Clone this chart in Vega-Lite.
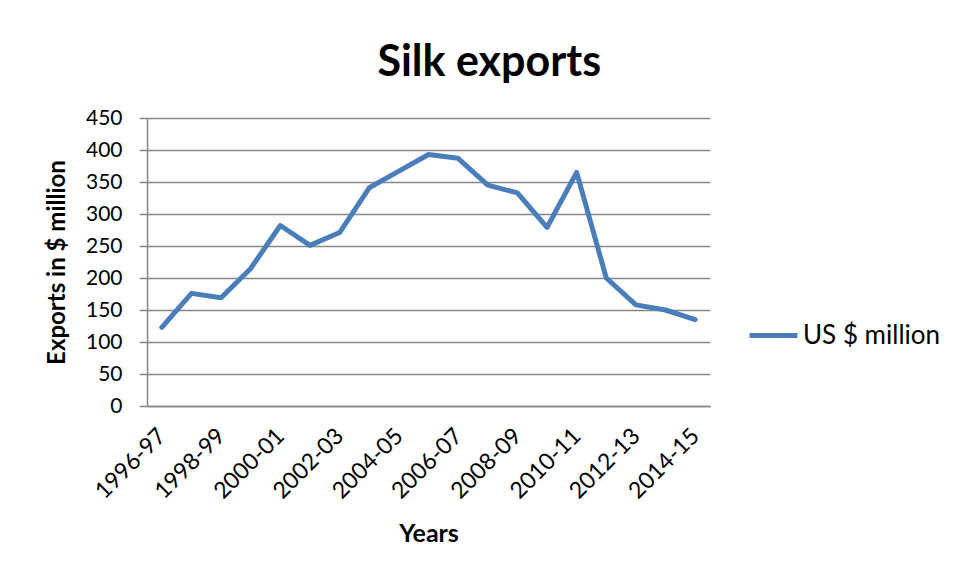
{
  "$schema": "https://vega.github.io/schema/vega-lite/v6.json",
  "width": 563,
  "height": 288,
  "padding": {"left": 45, "top": 42, "right": 5, "bottom": 5},
  "background": "white",
  "title": {
    "text": "Silk exports",
    "font": "Lato",
    "fontSize": 43,
    "fontWeight": "bold",
    "color": "#000000",
    "anchor": "middle",
    "frame": "bounds",
    "offset": 22,
    "dx": -4
  },
  "data": {
    "values": [
      {"year": "1996-97", "value": 123, "series": "US $ million"},
      {"year": "1997-98", "value": 176, "series": "US $ million"},
      {"year": "1998-99", "value": 169, "series": "US $ million"},
      {"year": "1999-00", "value": 215, "series": "US $ million"},
      {"year": "2000-01", "value": 282, "series": "US $ million"},
      {"year": "2001-02", "value": 251, "series": "US $ million"},
      {"year": "2002-03", "value": 271, "series": "US $ million"},
      {"year": "2003-04", "value": 341, "series": "US $ million"},
      {"year": "2004-05", "value": 367, "series": "US $ million"},
      {"year": "2005-06", "value": 393, "series": "US $ million"},
      {"year": "2006-07", "value": 387, "series": "US $ million"},
      {"year": "2007-08", "value": 345, "series": "US $ million"},
      {"year": "2008-09", "value": 333, "series": "US $ million"},
      {"year": "2009-10", "value": 279, "series": "US $ million"},
      {"year": "2010-11", "value": 365, "series": "US $ million"},
      {"year": "2011-12", "value": 200, "series": "US $ million"},
      {"year": "2012-13", "value": 158, "series": "US $ million"},
      {"year": "2013-14", "value": 150, "series": "US $ million"},
      {"year": "2014-15", "value": 135, "series": "US $ million"}
    ]
  },
  "mark": {"type": "line", "strokeWidth": 5, "strokeCap": "round", "strokeJoin": "round"},
  "encoding": {
    "x": {
      "field": "year",
      "type": "ordinal",
      "sort": null,
      "scale": {"type": "point", "padding": 0.5},
      "title": "Years",
      "axis": {
        "values": ["1996-97", "1998-99", "2000-01", "2002-03", "2004-05", "2006-07", "2008-09", "2010-11", "2012-13", "2014-15"],
        "labelAngle": -45,
        "labelAlign": "right",
        "labelBaseline": "middle",
        "labelFontSize": 23,
        "labelFont": "Lato",
        "labelColor": "#000000",
        "labelPadding": 26,
        "ticks": false,
        "domainColor": "#868686",
        "domainWidth": 1.5,
        "titleFont": "Lato",
        "titleFontSize": 25,
        "titleFontWeight": "bold",
        "titleColor": "#000000",
        "titlePadding": 18,
        "grid": false
      }
    },
    "y": {
      "field": "value",
      "type": "quantitative",
      "scale": {"domain": [0, 450]},
      "title": "Exports in $ million",
      "axis": {
        "values": [0, 50, 100, 150, 200, 250, 300, 350, 400, 450],
        "labelFontSize": 21,
        "labelFont": "Lato",
        "labelColor": "#000000",
        "labelPadding": 17,
        "tickColor": "#868686",
        "tickSize": 8,
        "tickWidth": 1.5,
        "domainColor": "#868686",
        "domainWidth": 1.5,
        "gridColor": "#868686",
        "gridWidth": 1.5,
        "titleFont": "Lato",
        "titleFontSize": 24,
        "titleFontWeight": "bold",
        "titleColor": "#000000",
        "titlePadding": 16
      }
    },
    "color": {
      "field": "series",
      "type": "nominal",
      "scale": {"range": ["#4A7EBB"]},
      "legend": {
        "title": null,
        "orient": "none",
        "legendX": 600,
        "legendY": 191,
        "symbolType": "stroke",
        "symbolSize": 2300,
        "symbolStrokeWidth": 5,
        "labelFontSize": 26,
        "labelFont": "Lato",
        "labelColor": "#000000",
        "labelOffset": 3
      }
    }
  },
  "config": {
    "view": {"stroke": null}
  }
}
